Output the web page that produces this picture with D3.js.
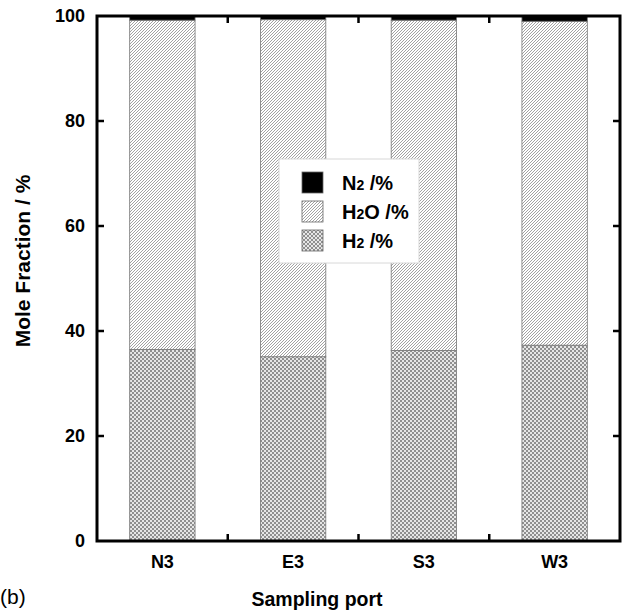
<!DOCTYPE html>
<html>
<head>
<meta charset="utf-8">
<script src="https://cdn.jsdelivr.net/npm/d3@7/dist/d3.min.js"></script>
<style>
  html, body { margin: 0; padding: 0; background: #fff; }
  svg { display: block; font-family: "Liberation Sans", Arial, Helvetica, sans-serif; }
</style>
</head>
<body>
<svg id="chart" width="630" height="611"></svg>
<script>
// Sampling ports and the gas composition measured at each (mole %)
const ports = ["N3", "E3", "S3", "W3"];
const h2 = [36.5, 35.1, 36.3, 37.3];
const h2o = [62.7, 64.2, 62.9, 61.7];
const n2 = [0.8, 0.7, 0.8, 1.0];
const yTicks = [0, 20, 40, 60, 80, 100];

const seriesKeys = ["H2", "H2O", "N2"];
const rows = ports.map((p, i) => ({ port: p, H2: h2[i], H2O: h2o[i], N2: n2[i] }));

const svg = d3.select("#chart");
const margin = { left: 97, right: 10, top: 16, bottom: 70 };
const W = 630, H = 611;
const x0 = margin.left, x1 = W - margin.right;
const y0 = H - margin.bottom, y1 = margin.top;

const x = d3.scaleBand().domain(ports).range([x0, x1]).paddingInner(0).paddingOuter(0);
const y = d3.scaleLinear().domain([0, 100]).range([y0, y1]);

// Fill patterns
const defs = svg.append("defs");
const hatch = defs.append("pattern")
  .attr("id", "hatch").attr("patternUnits", "userSpaceOnUse")
  .attr("width", 3).attr("height", 3);
hatch.append("rect").attr("width", 3).attr("height", 3).attr("fill", "#fff");
hatch.append("path").attr("d", "M-1,1 l2,-2 M0,3 l3,-3 M2,4 l2,-2")
  .attr("stroke", "#8a8a8a").attr("stroke-width", 0.8);

const check = defs.append("pattern")
  .attr("id", "check").attr("patternUnits", "userSpaceOnUse")
  .attr("width", 4).attr("height", 4);
check.append("rect").attr("width", 4).attr("height", 4).attr("fill", "#e6e6e6");
check.append("rect").attr("x", 0).attr("y", 0).attr("width", 2).attr("height", 2).attr("fill", "#8f8f8f");
check.append("rect").attr("x", 2).attr("y", 2).attr("width", 2).attr("height", 2).attr("fill", "#8f8f8f");

const fills = { H2: "url(#check)", H2O: "url(#hatch)", N2: "#000" };

// Stacked bars
const stack = d3.stack().keys(seriesKeys)(rows);
const barW = x.bandwidth() * 0.5;
svg.append("g").selectAll("g").data(stack).join("g")
  .attr("fill", d => fills[d.key])
  .selectAll("rect").data(d => d).join("rect")
  .attr("x", d => x(d.data.port) + (x.bandwidth() - barW) / 2)
  .attr("width", barW)
  .attr("y", d => y(d[1]))
  .attr("height", d => y(d[0]) - y(d[1]))
  .attr("stroke", "#777").attr("stroke-width", 0.8);

// Axes with inward ticks on all four sides
const tickLen = 7;
const axisBottom = d3.axisBottom(x).tickSize(0).tickPadding(14);
const gx = svg.append("g").attr("transform", `translate(0,${y0})`).call(axisBottom);
gx.select(".domain").remove();
gx.selectAll("text").attr("font-size", 18).attr("font-weight", "bold").attr("fill", "#000");

const axisLeft = d3.axisLeft(y).tickValues(yTicks).tickSize(0).tickPadding(12);
const gy = svg.append("g").attr("transform", `translate(${x0},0)`).call(axisLeft);
gy.select(".domain").remove();
gy.selectAll("text").attr("font-size", 18).attr("font-weight", "bold").attr("fill", "#000");

const tickG = svg.append("g").attr("stroke", "#000").attr("stroke-width", 2.5);
const boundaries = ports.slice(1).map(p => x(p));
boundaries.forEach(bx => {
  tickG.append("line").attr("x1", bx).attr("x2", bx).attr("y1", y0).attr("y2", y0 - tickLen);
  tickG.append("line").attr("x1", bx).attr("x2", bx).attr("y1", y1).attr("y2", y1 + tickLen);
});
yTicks.slice(1, -1).forEach(v => {
  tickG.append("line").attr("x1", x0).attr("x2", x0 + tickLen).attr("y1", y(v)).attr("y2", y(v));
  tickG.append("line").attr("x1", x1).attr("x2", x1 - tickLen).attr("y1", y(v)).attr("y2", y(v));
});

// Frame
svg.append("rect").attr("x", x0).attr("y", y1).attr("width", x1 - x0).attr("height", y0 - y1)
  .attr("fill", "none").attr("stroke", "#000").attr("stroke-width", 3);

// Axis titles
svg.append("text").attr("transform", "translate(30,261) rotate(-90)")
  .attr("text-anchor", "middle").attr("font-size", 21).attr("font-weight", "bold")
  .text("Mole Fraction / %");
svg.append("text").attr("x", 317).attr("y", 606).attr("text-anchor", "middle")
  .attr("font-size", 19.5).attr("font-weight", "bold").text("Sampling port");
svg.append("text").attr("x", 0).attr("y", 604).attr("font-size", 21).text("(b)");

// Legend
const legend = svg.append("g").attr("transform", "translate(279,159)");
legend.append("rect").attr("width", 140).attr("height", 104)
  .attr("fill", "#fff").attr("stroke", "#d8d8d8").attr("stroke-width", 1);
const legendItems = [
  { key: "N2", base: "N", sub: "2", rest: " /%" },
  { key: "H2O", base: "H", sub: "2", rest: "O /%" },
  { key: "H2", base: "H", sub: "2", rest: " /%" }
];
legendItems.forEach((it, i) => {
  const ly = 13 + i * 29;
  legend.append("rect").attr("x", 23).attr("y", ly).attr("width", 21).attr("height", 21)
    .attr("fill", fills[it.key]).attr("stroke", "#666").attr("stroke-width", 0.8);
  const t = legend.append("text").attr("x", 63).attr("y", ly + 18)
    .attr("font-size", 20).attr("font-weight", "bold");
  t.append("tspan").text(it.base);
  t.append("tspan").attr("font-size", 14).text(it.sub);
  t.append("tspan").text(it.rest);
});
</script>
</body>
</html>
